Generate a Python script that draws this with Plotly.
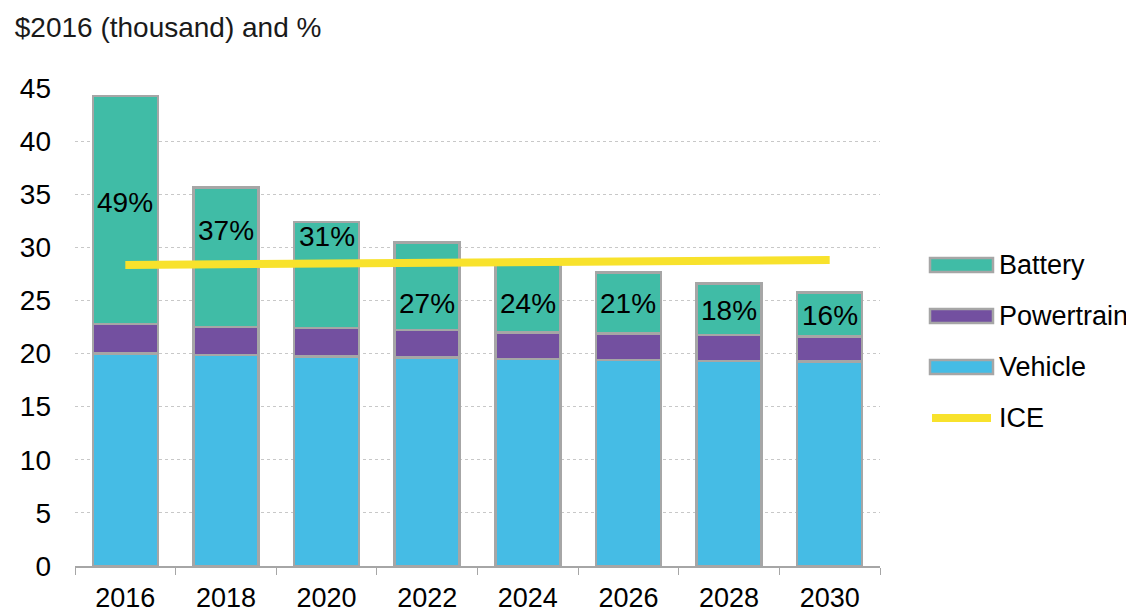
"""EV cost breakdown vs ICE, stacked bars with a reference line."""

import plotly.graph_objects as go

years = ['2016', '2018', '2020', '2022', '2024', '2026', '2028', '2030']
vehicle = [20.0, 19.85, 19.7, 19.65, 19.5, 19.4, 19.3, 19.25]
powertrain = [2.8, 2.65, 2.7, 2.55, 2.5, 2.5, 2.45, 2.35]
battery = [21.45, 13.15, 10.0, 8.25, 6.7, 5.75, 4.85, 4.15]
ice = [28.34, 28.42, 28.5, 28.58, 28.65, 28.7, 28.75, 28.8]
battery_share = ['49%', '37%', '31%', '27%', '24%', '21%', '18%', '16%']

# where the share labels sit inside the battery segment
label_y = [34.2, 31.6, 31.0, 24.7, 24.7, 24.7, 24.1, 23.6]

FONT = 'Liberation Sans, Arial, sans-serif'
OUTLINE = '#A6A6A6'
ICE_COLOR = '#F8E22C'

# page body has an 8px margin, so the figure is drawn 8px in from the corner
OFF = 8
W, H = 1134 - OFF, 615 - OFF
M = dict(l=75 - OFF, r=254, t=88 - OFF, b=49)

fig = go.Figure()

series = [
    ('Vehicle', vehicle, '#45BCE5'),
    ('Powertrain', powertrain, '#7350A0'),
    ('Battery', battery, '#40BCA6'),
]
for name, vals, color in series:
    fig.add_trace(go.Bar(
        x=years, y=vals, name=name,
        marker=dict(color=color, line=dict(color=OUTLINE, width=2.5)),
        hoverinfo='skip',
    ))

fig.add_trace(go.Scatter(
    x=years, y=ice, name='ICE', mode='lines',
    line=dict(color=ICE_COLOR, width=8),
    hoverinfo='skip',
))

# share labels (x given as category index so numeric-looking years stay categories)
for i, (txt, ly) in enumerate(zip(battery_share, label_y)):
    fig.add_annotation(
        x=i, y=ly, text=txt, showarrow=False,
        font=dict(size=28, color='black', family=FONT),
    )


# legend drawn by hand so the swatches are wide bars like the original
def px_x(px):
    return (px - OFF - M['l']) / (W - M['l'] - M['r'])


def px_y(py):
    return (H - M['b'] - (py - OFF)) / (H - M['t'] - M['b'])


legend_items = [('Battery', '#40BCA6'), ('Powertrain', '#7350A0'), ('Vehicle', '#45BCE5')]
for k, (name, color) in enumerate(legend_items):
    cy = 265 + 51 * k
    fig.add_shape(
        type='rect', xref='paper', yref='paper',
        x0=px_x(930), x1=px_x(993), y0=px_y(cy + 7), y1=px_y(cy - 7),
        fillcolor=color, line=dict(color=OUTLINE, width=2.5),
    )
    fig.add_annotation(
        xref='paper', yref='paper', x=px_x(997), y=px_y(cy),
        xanchor='left', yanchor='middle', text=name, showarrow=False,
        font=dict(size=27, color='black', family=FONT),
    )
cy = 265 + 51 * 3
fig.add_shape(
    type='line', xref='paper', yref='paper',
    x0=px_x(932), x1=px_x(991), y0=px_y(cy), y1=px_y(cy),
    line=dict(color=ICE_COLOR, width=8),
)
fig.add_annotation(
    xref='paper', yref='paper', x=px_x(997), y=px_y(cy),
    xanchor='left', yanchor='middle', text='ICE', showarrow=False,
    font=dict(size=27, color='black', family=FONT),
)

fig.update_layout(
    barmode='stack',
    bargap=0.355,
    width=W, height=H,
    margin=M,
    paper_bgcolor='white',
    plot_bgcolor='white',
    font=dict(family=FONT, size=27, color='black'),
    title=dict(
        text='$2016 (thousand) and %',
        xref='container', yref='container',
        x=0.006, y=0.968, xanchor='left', yanchor='middle',
        font=dict(size=28, color='#1a1a1a'),
    ),
    showlegend=False,
)

fig.update_xaxes(
    type='category',
    range=[-0.5, len(years) - 0.5],
    showline=True, linecolor=OUTLINE, linewidth=1.5,
    ticks='outside', tickson='boundaries', ticklen=7, tickcolor=OUTLINE,
    tickfont=dict(size=27),
    tickangle=0,
    ticklabelstandoff=7,
    showgrid=False,
    automargin=False,
)
fig.update_yaxes(
    range=[0, 45], dtick=5,
    showgrid=True, gridcolor='#C8C8C8', griddash='dot', gridwidth=1,
    zeroline=False, showline=False,
    tickfont=dict(size=28),
    ticklabelstandoff=23,
    automargin=False,
)

fig.write_html('out.html')
